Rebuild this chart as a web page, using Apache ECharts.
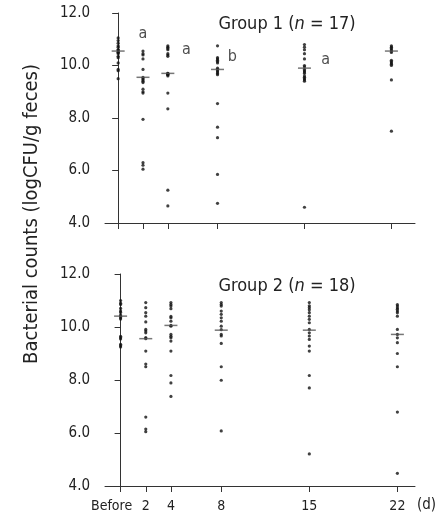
<!DOCTYPE html>
<html>
<head>
<meta charset="utf-8">
<script src="https://cdn.jsdelivr.net/npm/echarts@6/dist/echarts.min.js"></script>
<style>
  html, body { margin: 0; padding: 0; background: #fff; }
  #chart { width: 438px; height: 517px; }
</style>
</head>
<body>
<div id="chart"></div>
<script>
// sampling days (Before = day 0)
const days = [0, 2, 4, 8, 15, 22];
const yTicks = [4, 6, 8, 10, 12];

// Group 1 (n = 17), one array per time point
const g1Before = [11.05, 10.95, 10.85, 10.75, 10.7, 10.6, 10.6, 10.55, 10.5, 10.5, 10.45, 10.35, 10.3, 10.1, 9.85, 9.8, 9.5];
const g1Day2 = [10.55, 10.45, 10.4, 10.25, 9.85, 9.55, 9.5, 9.45, 9.4, 9.35, 9.1, 9.0, 8.95, 7.95, 6.3, 6.2, 6.05];
const g1Day4 = [10.75, 10.7, 10.65, 10.6, 10.45, 10.4, 10.35, 9.7, 9.7, 9.68, 9.65, 9.65, 9.6, 8.95, 8.35, 5.25, 4.65];
const g1Day8 = [10.75, 10.3, 10.25, 10.2, 10.15, 10.1, 9.9, 9.85, 9.8, 9.75, 9.7, 9.65, 8.55, 7.65, 7.25, 5.85, 4.75];
const g1Day15 = [10.8, 10.7, 10.6, 10.45, 10.25, 10.0, 9.95, 9.85, 9.8, 9.75, 9.7, 9.6, 9.55, 9.5, 9.45, 9.4, 4.6];
const g1Day22 = [10.75, 10.7, 10.65, 10.6, 10.55, 10.5, 10.2, 10.15, 10.1, 10.05, 10.0, 9.45, 7.5];
const g1Means = [10.55, 9.55, 9.7, 9.85, 9.9, 10.55];

// Group 2 (n = 18)
const g2Before = [11.0, 10.9, 10.85, 10.7, 10.6, 10.55, 10.45, 10.4, 10.35, 10.3, 9.65, 9.6, 9.55, 9.35, 9.3, 9.25];
const g2Day2 = [10.92, 10.73, 10.54, 10.41, 10.19, 9.91, 9.85, 9.78, 9.6, 9.56, 9.09, 8.6, 8.5, 6.6, 6.15, 6.05];
const g2Day4 = [10.92, 10.85, 10.79, 10.69, 10.4, 10.35, 10.22, 10.06, 10.03, 9.72, 9.65, 9.59, 9.47, 9.09, 8.17, 7.89, 7.38];
const g2Day8 = [10.92, 10.85, 10.79, 10.6, 10.48, 10.35, 10.22, 10.03, 9.9, 9.72, 9.66, 9.38, 8.5, 7.99, 6.08];
const g2Day15 = [10.92, 10.8, 10.73, 10.65, 10.54, 10.41, 10.29, 10.16, 9.91, 9.78, 9.66, 9.53, 9.28, 9.09, 8.17, 7.7, 5.21];
const g2Day22 = [10.85, 10.79, 10.72, 10.67, 10.6, 10.54, 10.41, 9.91, 9.72, 9.59, 9.41, 9.0, 8.5, 6.79, 4.48];
const g2Means = [10.41, 9.56, 10.06, 9.88, 9.88, 9.72];

// significance letters in group 1: [day position, value, letter]
const g1Letters = [[2, 11.22, 'a'], [5.5, 10.58, 'a'], [9.2, 10.34, 'b'], [16.7, 10.2, 'a']];

const g1Cols = [g1Before, g1Day2, g1Day4, g1Day8, g1Day15, g1Day22];
const g2Cols = [g2Before, g2Day2, g2Day4, g2Day8, g2Day15, g2Day22];

const font = '"DejaVu Sans Condensed", "DejaVu Sans"';
const ink = '#222';

function dots(cols) {
  const out = [];
  cols.forEach((vals, i) => vals.forEach(v => out.push([days[i], v])));
  return out;
}

function xAxis(idx, min, max, showLabels) {
  return {
    type: 'value', gridIndex: idx, min: min, max: max,
    splitLine: { show: false },
    axisLine: { lineStyle: { color: '#333', width: 1 } },
    axisTick: { customValues: days, length: 6, lineStyle: { color: '#333' } },
    axisLabel: {
      show: showLabels, customValues: days, margin: 13,
      fontFamily: font, fontSize: 14, color: ink,
      formatter: v => v === 0 ? '{b|Before}' : String(v),
      rich: { b: { fontFamily: font, fontSize: 14, color: ink, padding: [0, 18, 0, 0] } }
    }
  };
}

function yAxis(idx) {
  return {
    type: 'value', gridIndex: idx, min: 4, max: 12, interval: 2,
    splitLine: { show: false },
    axisLine: { show: true, lineStyle: { color: '#333', width: 1 } },
    axisTick: { show: true, length: 6, lineStyle: { color: '#333' } },
    axisLabel: { margin: 15, fontFamily: font, fontSize: 15, color: ink, formatter: v => v.toFixed(1) }
  };
}

const titleStyle = {
  fontFamily: font, fontSize: 18, fontWeight: 'normal', color: ink,
  rich: { i: { fontFamily: font, fontSize: 18, fontStyle: 'italic', color: ink } }
};

const chart = echarts.init(document.getElementById('chart'));
chart.setOption({
  animation: false,
  backgroundColor: '#fff',
  title: [
    { text: 'Group 1 ({i|n} = 17)', left: 282, top: 10, textAlign: 'center', textStyle: titleStyle },
    { text: 'Group 2 ({i|n} = 18)', left: 282, top: 272, textAlign: 'center', textStyle: titleStyle }
  ],
  graphic: [
    { type: 'text', left: 22, top: 64, rotation: Math.PI / 2,
      style: { text: 'Bacterial counts (logCFU/g feces)', font: '20px "DejaVu Sans Condensed", "DejaVu Sans"', fill: ink } },
    { type: 'text', right: 2, bottom: 4,
      style: { text: '(d)', font: '15px "DejaVu Sans Condensed", "DejaVu Sans"', fill: ink } }
  ],
  grid: [
    { left: 105, top: 13, width: 310, height: 210 },
    { left: 105, top: 274, width: 310, height: 212 }
  ],
  xAxis: [xAxis(0, -1.06, 23.9, false), xAxis(1, -1.24, 23.4, true)],
  yAxis: [yAxis(0), yAxis(1)],
  series: [
    { type: 'scatter', xAxisIndex: 0, yAxisIndex: 0, data: dots(g1Cols),
      symbol: 'circle', symbolSize: 3.2, itemStyle: { color: '#111' } },
    { type: 'scatter', xAxisIndex: 1, yAxisIndex: 1, data: dots(g2Cols),
      symbol: 'circle', symbolSize: 3.2, itemStyle: { color: '#111' } },
    { type: 'scatter', xAxisIndex: 0, yAxisIndex: 0, data: g1Means.map((m, i) => [days[i], m]),
      symbol: 'rect', symbolSize: [13, 1.5], itemStyle: { color: '#555' }, z: 3 },
    { type: 'scatter', xAxisIndex: 1, yAxisIndex: 1, data: g2Means.map((m, i) => [days[i], m]),
      symbol: 'rect', symbolSize: [13, 1.5], itemStyle: { color: '#555' }, z: 3 },
    { type: 'scatter', xAxisIndex: 0, yAxisIndex: 0, data: g1Letters, symbolSize: 0,
      label: { show: true, position: 'inside', formatter: p => p.value[2],
        fontFamily: font, fontSize: 16, color: ink } }
  ]
});
</script>
</body>
</html>
